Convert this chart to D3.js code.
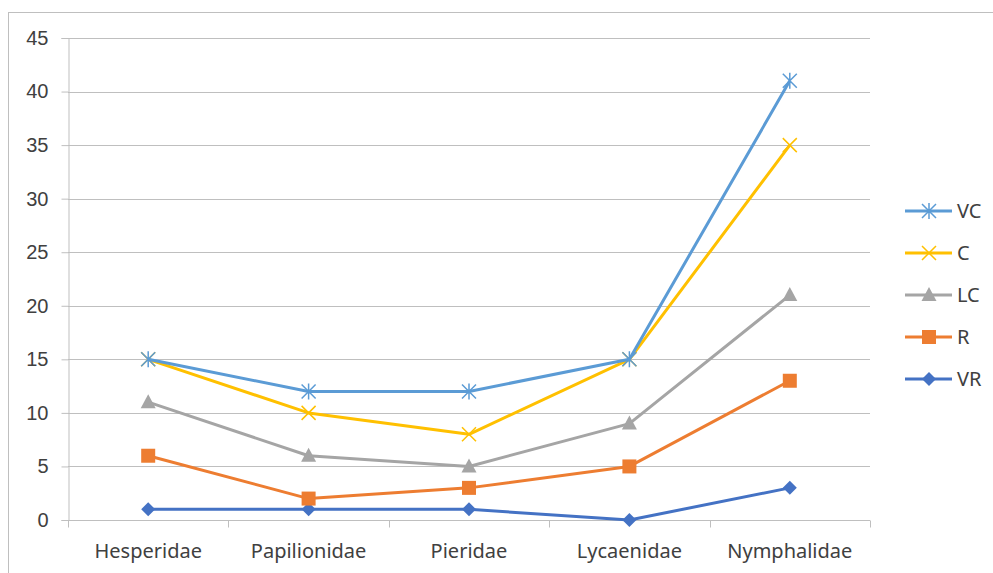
<!DOCTYPE html>
<html>
<head>
<meta charset="utf-8">
<script src="https://cdn.jsdelivr.net/npm/d3@7"></script>
<style>
  body { margin: 0; background: #fff; }
  svg { display: block; font-family: "Noto Sans", "Open Sans", sans-serif; }
</style>
</head>
<body>
<div id="chart"></div>
<script>
const families = ["Hesperidae", "Papilionidae", "Pieridae", "Lycaenidae", "Nymphalidae"]
const yTicks = [0, 5, 10, 15, 20, 25, 30, 35, 40, 45]
const seriesNames = ["VC", "C", "LC", "R", "VR"]
const vcValues = [15, 12, 12, 15, 41]
const cValues = [15, 10, 8, 15, 35]
const lcValues = [11, 6, 5, 9, 21]
const rValues = [6, 2, 3, 5, 13]
const vrValues = [1, 1, 1, 0, 3]

const series = [
  { name: "VC", values: vcValues, color: "#5b9bd5", marker: "star" },
  { name: "C", values: cValues, color: "#ffc000", marker: "x" },
  { name: "LC", values: lcValues, color: "#a5a5a5", marker: "triangle" },
  { name: "R", values: rValues, color: "#ed7d31", marker: "square" },
  { name: "VR", values: vrValues, color: "#4472c4", marker: "diamond" }
]

drawChart("#chart")

function createCanvas(){
  return { width: 993, height: 573, margin: { top: 38, bottom: 53, left: 68, right: 123 } }
}

function drawChart(id){
  const canvas = createCanvas()
  const svg = d3.select(id).append("svg").attr("width", canvas.width).attr("height", canvas.height)

  // outer chart border
  svg.append("rect").attr("x", 8.5).attr("y", 12.5).attr("width", 1000).attr("height", 600)
    .attr("fill", "none").attr("stroke", "#bfbfbf").attr("stroke-width", 1)

  const sc = addScales(canvas)
  addGrid(svg, sc, canvas)
  addAxes(svg, sc, canvas)
  addSeries(svg, sc)
  addLegend(svg)
}

function addScales(canvas){
  const xBand = d3.scaleBand().domain(families)
    .range([canvas.margin.left, canvas.width - canvas.margin.right])
  const yScale = d3.scaleLinear().domain([0, 45])
    .range([canvas.height - canvas.margin.bottom, canvas.margin.top])
  const xScale = d => xBand(d) + xBand.bandwidth() / 2
  return { xBand, xScale, yScale }
}

function addGrid(svg, sc, canvas){
  svg.append("g").selectAll("line").data(yTicks.filter(t => t > 0)).join("line")
    .attr("x1", canvas.margin.left).attr("x2", canvas.width - canvas.margin.right)
    .attr("y1", d => Math.round(sc.yScale(d)) + 0.5).attr("y2", d => Math.round(sc.yScale(d)) + 0.5)
    .attr("stroke", "#bfbfbf").attr("stroke-width", 1)
}

function addAxes(svg, sc, canvas){
  const y0 = Math.round(sc.yScale(0)) + 0.5
  const yAxis = svg.append("g").attr("transform", `translate(${canvas.margin.left + 0.5},0)`)
    .call(d3.axisLeft(sc.yScale).tickValues(yTicks).tickSize(7).tickPadding(13))
  yAxis.select(".domain").attr("stroke", "#bfbfbf")
  yAxis.selectAll(".tick line").attr("stroke", "#bfbfbf")
  yAxis.selectAll("text").attr("font-size", 20).attr("fill", "#404040")

  const xAxis = svg.append("g").attr("transform", `translate(0,${y0})`)
  xAxis.append("line").attr("x1", canvas.margin.left).attr("x2", canvas.width - canvas.margin.right)
    .attr("stroke", "#bfbfbf")
  const bounds = families.map(f => sc.xBand(f)).concat([sc.xBand.range()[1]])
  xAxis.selectAll(".xtick").data(bounds).join("line").attr("class", "xtick")
    .attr("x1", d => Math.round(d) + 0.5).attr("x2", d => Math.round(d) + 0.5)
    .attr("y1", 0).attr("y2", 7).attr("stroke", "#bfbfbf")
  xAxis.selectAll("text").data(families).join("text")
    .attr("x", d => sc.xScale(d)).attr("y", 37)
    .attr("text-anchor", "middle").attr("font-size", 20).attr("fill", "#404040")
    .text(d => d)
}

function drawMarker(g, type, color, x, y){
  const s = 7
  if (type === "star" || type === "x"){
    const p = `M${x - s},${y - s}L${x + s},${y + s}M${x - s},${y + s}L${x + s},${y - s}` +
      (type === "star" ? `M${x},${y - s - 1}L${x},${y + s + 1}` : "")
    g.append("path").attr("d", p).attr("stroke", color).attr("stroke-width", 1.5).attr("fill", "none")
  } else if (type === "triangle"){
    g.append("path").attr("d", `M${x},${y - 8}L${x + 7.5},${y + 6}L${x - 7.5},${y + 6}Z`).attr("fill", color)
  } else if (type === "square"){
    g.append("rect").attr("x", x - 7).attr("y", y - 7).attr("width", 14).attr("height", 14).attr("fill", color)
  } else if (type === "diamond"){
    g.append("path").attr("d", `M${x},${y - 7}L${x + 7},${y}L${x},${y + 7}L${x - 7},${y}Z`).attr("fill", color)
  }
}

function addSeries(svg, sc){
  const line = d3.line().x((d, i) => sc.xScale(families[i])).y(d => sc.yScale(d))
  const ordered = series.slice().reverse()
  ordered.forEach(s => {
    const g = svg.append("g")
    g.append("path").datum(s.values).attr("fill", "none").attr("stroke", s.color)
      .attr("stroke-width", 3).attr("stroke-linejoin", "round").attr("d", line)
    s.values.forEach((v, i) => drawMarker(g, s.marker, s.color, sc.xScale(families[i]), sc.yScale(v)))
  })
}

function addLegend(svg){
  const lg = svg.append("g")
  series.forEach((s, i) => {
    const y = 211 + i * 42
    const g = lg.append("g")
    g.append("line").attr("x1", 905).attr("x2", 952).attr("y1", y).attr("y2", y)
      .attr("stroke", s.color).attr("stroke-width", 3)
    drawMarker(g, s.marker, s.color, 929, y)
    g.append("text").attr("x", 957).attr("y", y + 7).attr("font-size", 20).attr("fill", "#404040").text(s.name)
  })
}
</script>
</body>
</html>
